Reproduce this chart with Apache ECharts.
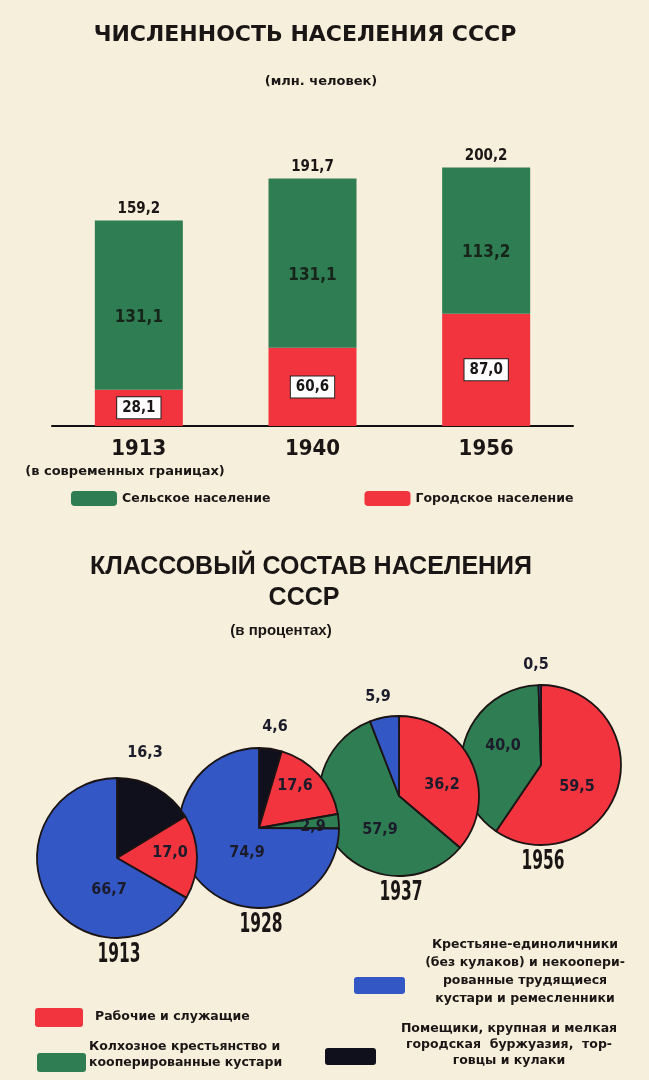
<!DOCTYPE html>
<html><head><meta charset="utf-8">
<script src="https://cdn.jsdelivr.net/npm/echarts@6/dist/echarts.min.js"></script>
<style>html,body{margin:0;padding:0;background:#f6efdb;}#c{width:649px;height:1080px;}</style>
</head><body><div id="c"></div>
<script>
// ---------- DATA ----------
const barYears   = ['1913', '1940', '1956'];
const urbanPop   = [28.1, 60.6, 87.0];     // Городское население, млн
const ruralPop   = [131.1, 131.1, 113.2];  // Сельское население, млн
const totalPop   = [159.2, 191.7, 200.2];  // всего, млн

const pieYears   = ['1913', '1928', '1937', '1956'];
const classNames = [
  'Помещики, крупная и мелкая городская буржуазия, торговцы и кулаки',
  'Рабочие и служащие',
  'Колхозное крестьянство и кооперированные кустари',
  'Крестьяне-единоличники (без кулаков) и некооперированные трудящиеся кустари и ремесленники'
];
const bourgeoisShare = [16.3, 4.6, null, null];
const workersShare   = [17.0, 17.6, 36.2, 59.5];
const kolkhozShare   = [null, 2.9, 57.9, 40.0];
const peasantsShare  = [66.7, 74.9, 5.9, 0.5];

// ---------- STYLE / LAYOUT ----------
const C_RED = '#f2343f', C_GREEN = '#2f7d52', C_BLUE = '#3358c6', C_BLACK = '#10101c';
const classColors = [C_BLACK, C_RED, C_GREEN, C_BLUE];
const INK = '#1b1616';
const NARROW = '"Liberation Sans Narrow","DejaVu Sans Condensed","Roboto Condensed",sans-serif';
const WIDE = '"DejaVu Sans",sans-serif';
const LIB = '"Liberation Sans",Arial,sans-serif';
const fmt = v => Number(v).toFixed(1).replace('.', ',');

const pieCenters = [[117, 858], [259, 828], [399, 796], [541, 765]];
const pieRadius = 80;
// label offsets from pie centre, per class (bourgeois, workers, kolkhoz, peasants)
const pieLabelOffsets = [
  [[28, -105], [53, -5], null, [-8, 32]],
  [[16, -101], [36, -42], [54, -1], [-12, 25]],
  [null, [43, -11], [-19, 34], [-21, -99]],
  [null, [36, 22], [-38, -19], [-5, -100]]
];

const shares = [bourgeoisShare, workersShare, kolkhozShare, peasantsShare];

function pieSeries(i) {
  const items = [];
  const cls = [];
  for (let k = 0; k < classNames.length; k++) {
    const v = shares[k][i];
    if (v == null) continue;
    items.push({ name: classNames[k], value: v, itemStyle: { color: classColors[k] } });
    cls.push(k);
  }
  return {
    type: 'pie', name: pieYears[i],
    center: pieCenters[i], radius: pieRadius,
    startAngle: 90, clockwise: true, silent: true,
    z: 2 + (pieYears.length - i),
    itemStyle: { borderColor: '#1c1414', borderWidth: 1.8 },
    label: {
      show: true, position: 'center', formatter: p => fmt(p.value),
      fontFamily: NARROW, fontWeight: 'bold', fontSize: 16, color: '#1b1b2b'
    },
    labelLine: { show: false },
    labelLayout: p => {
      const o = pieLabelOffsets[i][cls[p.dataIndex]] || [0, 0];
      return { dx: o[0], dy: o[1] };
    },
    emphasis: { disabled: true },
    data: items
  };
}

function txt(x, y, text, font, size, align, lineHeight, scaleX) {
  return {
    type: 'text', x: x, y: y, silent: true, scaleX: scaleX || 1,
    style: {
      text: text, fontFamily: font, fontWeight: 'bold', fontSize: size,
      fill: INK, align: align || 'center', verticalAlign: 'middle',
      lineHeight: lineHeight || size * 1.2
    }
  };
}
function swatch(x, y, w, h, color) {
  return { type: 'rect', silent: true, shape: { x: x, y: y, width: w, height: h, r: 3 }, style: { fill: color } };
}

const graphics = [
  txt(305, 35, 'ЧИСЛЕННОСТЬ НАСЕЛЕНИЯ СССР', WIDE, 22),
  txt(321, 82, '(млн. человек)', WIDE, 13),
  txt(125, 472, '(в современных границах)', WIDE, 13),
  txt(311, 567, 'КЛАССОВЫЙ СОСТАВ НАСЕЛЕНИЯ', LIB, 25),
  txt(304, 598, 'СССР', LIB, 25),
  txt(281, 631, '(в процентах)', LIB, 15),
  // pie legend
  swatch(354, 977, 51, 17, C_BLUE),
  txt(525, 972, 'Крестьяне-единоличники\n(без кулаков) и некоопери-\nрованные трудящиеся\nкустари и ремесленники', WIDE, 12.5, 'center', 18),
  swatch(35, 1008, 48, 19, C_RED),
  txt(95, 1017, 'Рабочие и служащие', WIDE, 12.5, 'left'),
  swatch(37, 1053, 49, 19, C_GREEN),
  txt(89, 1055, 'Колхозное крестьянство и\nкооперированные кустари', WIDE, 12.5, 'left', 16),
  swatch(325, 1048, 51, 17, C_BLACK),
  txt(509, 1045, 'Помещики, крупная и мелкая\nгородская  буржуазия,  тор-\nговцы и кулаки', WIDE, 12.5, 'center', 16)
];
pieYears.forEach((y, i) => {
  graphics.push(txt(pieCenters[i][0] + 2, pieCenters[i][1] + pieRadius + 17, y, NARROW, 26, 'center', 30, 0.66));
});

const series = [
  {
    type: 'bar', name: 'Городское население', stack: 'pop', barWidth: 88,
    itemStyle: { color: C_RED }, silent: true,
    label: {
      show: true, position: 'inside', formatter: p => fmt(p.value),
      backgroundColor: '#fff', borderColor: '#222', borderWidth: 1, padding: [4, 5, 2, 5],
      fontFamily: NARROW, fontWeight: 'bold', fontSize: 15, color: INK
    },
    data: urbanPop
  },
  {
    type: 'bar', name: 'Сельское население', stack: 'pop', barWidth: 88,
    itemStyle: { color: C_GREEN }, silent: true,
    label: {
      show: true, position: 'inside', offset: [0, 12], formatter: p => fmt(p.value),
      fontFamily: NARROW, fontWeight: 'bold', fontSize: 17, color: '#16241a'
    },
    data: ruralPop
  },
  {
    type: 'scatter', name: 'Всего', symbolSize: 0, silent: true,
    itemStyle: { color: INK, opacity: 1 },
    label: {
      show: true, position: 'top', distance: 4, formatter: p => fmt(p.value),
      fontFamily: NARROW, fontWeight: 'bold', fontSize: 15, color: INK, opacity: 1
    },
    data: totalPop
  }
];
for (let i = pieYears.length - 1; i >= 0; i--) series.push(pieSeries(i));

const chart = echarts.init(document.getElementById('c'), null, { renderer: 'canvas' });
chart.setOption({
  animation: false,
  backgroundColor: '#f6efdb',
  grid: { left: 52, right: 76, top: 142, bottom: 654 },
  xAxis: {
    type: 'category', data: barYears,
    axisLine: { lineStyle: { color: '#111', width: 2 } },
    axisTick: { show: false },
    axisLabel: { margin: 12, fontFamily: NARROW, fontWeight: 'bold', fontSize: 22, color: INK }
  },
  yAxis: { type: 'value', min: 0, max: 220, show: false, splitLine: { show: false } },
  legend: {
    data: ['Сельское население', 'Городское население'],
    left: 66, top: 486, itemWidth: 46, itemHeight: 15, itemGap: 94, icon: 'roundRect',
    selectedMode: false,
    textStyle: { fontFamily: WIDE, fontWeight: 'bold', fontSize: 12.5, color: INK }
  },
  graphic: graphics,
  series: series
});
</script>
</body></html>
